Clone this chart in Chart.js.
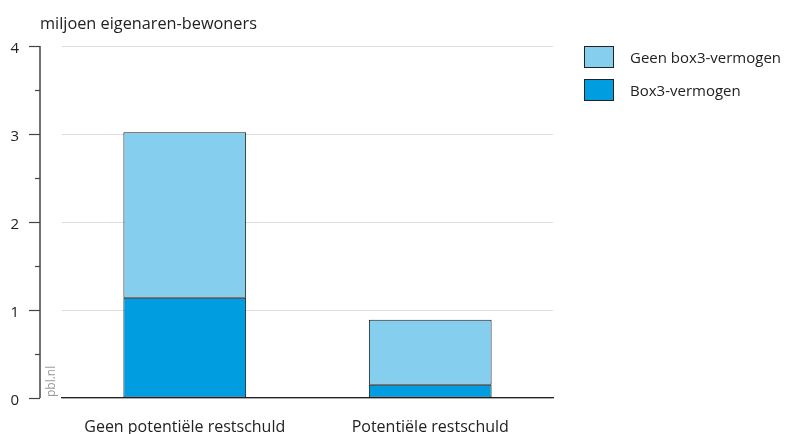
<!DOCTYPE html>
<html>
<head>
<meta charset="utf-8">
<script src="https://cdn.jsdelivr.net/npm/chart.js@4.4.1/dist/chart.umd.min.js"></script>
<style>
  html, body { margin: 0; padding: 0; background: #fff; }
  #wrap { position: relative; width: 796px; height: 434px; overflow: hidden; }
  #c { display: block; }
  #legend { position: absolute; left: 584px; top: 46px; font-family: "Open Sans", sans-serif; font-size: 15px; color: #222; }
  .item { display: flex; align-items: center; height: 22px; margin-bottom: 11px; }
  .box { width: 28px; height: 20px; border: 1px solid #222; margin-right: 16px; box-sizing: content-box; }
</style>
</head>
<body>
<div id="wrap">
  <canvas id="c" width="796" height="434"></canvas>
  <div id="legend"></div>
</div>
<script>
const categories = ["Geen potentiële restschuld", "Potentiële restschuld"];
const box3Vermogen = [1.14, 0.15];
const geenBox3Vermogen = [1.88, 0.74];
const yTicks = [0, 1, 2, 3, 4];
const axisTitle = "miljoen eigenaren-bewoners";
const seriesNames = ["Box3-vermogen", "Geen box3-vermogen"];

const FONT = '"Open Sans", sans-serif';
const LIGHT = '#86CEEE';
const DARK = '#009EE0';

const customAxis = {
  id: 'customAxis',
  afterDraw(chart) {
    const ctx = chart.ctx;
    const y = chart.scales.y;
    const axisX = 40;
    ctx.save();
    ctx.strokeStyle = '#444';
    ctx.lineWidth = 1.5;
    ctx.beginPath();
    ctx.moveTo(axisX, y.getPixelForValue(yTicks[yTicks.length - 1]));
    ctx.lineTo(axisX, y.getPixelForValue(yTicks[0]));
    ctx.stroke();
    ctx.lineWidth = 1.2;
    yTicks.forEach((v, i) => {
      const py = Math.round(y.getPixelForValue(v)) + 0.5;
      ctx.beginPath();
      ctx.moveTo(29, py);
      ctx.lineTo(axisX, py);
      ctx.stroke();
      if (i < yTicks.length - 1) {
        const pm = Math.round(y.getPixelForValue(v + 0.5)) + 0.5;
        ctx.beginPath();
        ctx.moveTo(35, pm);
        ctx.lineTo(axisX, pm);
        ctx.stroke();
      }
    });
    ctx.fillStyle = '#222';
    ctx.font = '16.3px ' + FONT;
    ctx.textAlign = 'left';
    ctx.textBaseline = 'alphabetic';
    ctx.fillText(axisTitle, 40, 29);
    ctx.translate(55, 397);
    ctx.rotate(-Math.PI / 2);
    ctx.fillStyle = '#9a9a9a';
    ctx.font = '12px ' + FONT;
    ctx.fillText('pbl.nl', 0, 0);
    ctx.restore();
  }
};

const chart = new Chart(document.getElementById('c'), {
  type: 'bar',
  data: {
    labels: categories,
    datasets: [
      { label: seriesNames[0], data: box3Vermogen, backgroundColor: DARK, borderColor: '#1a1a1a', borderWidth: 1, borderSkipped: false },
      { label: seriesNames[1], data: geenBox3Vermogen, backgroundColor: LIGHT, borderColor: '#1a1a1a', borderWidth: 1, borderSkipped: false }
    ]
  },
  options: {
    responsive: false,
    animation: false,
    barPercentage: 0.5,
    categoryPercentage: 1,
    layout: { autoPadding: false, padding: { top: 46, right: 243, left: 0, bottom: 0 } },
    plugins: { legend: { display: false }, tooltip: { enabled: false }, title: { display: false } },
    scales: {
      x: {
        stacked: true,
        grid: { display: false, drawTicks: false },
        border: { display: true, color: '#222', width: 1.2 },
        ticks: { color: '#222', font: { family: FONT, size: 16 }, padding: 20, maxRotation: 0 },
        afterFit(s) { s.height = 36; s.paddingLeft = 0; s.paddingRight = 0; }
      },
      y: {
        stacked: true,
        min: 0, max: 4,
        afterBuildTicks(s) { s.ticks = yTicks.map(v => ({ value: v })); },
        grid: { color: '#dddddd', lineWidth: 1, drawTicks: false },
        border: { display: false },
        ticks: { color: '#222', font: { family: FONT, size: 15 }, padding: 43, labelOffset: 3 },
        afterFit(s) { s.width = 62; s.paddingTop = 0; s.paddingBottom = 0; }
      }
    }
  },
  plugins: [customAxis]
});

const leg = document.getElementById('legend');
chart.data.datasets.slice().reverse().forEach(ds => {
  const it = document.createElement('div');
  it.className = 'item';
  const b = document.createElement('span');
  b.className = 'box';
  b.style.background = ds.backgroundColor;
  const t = document.createElement('span');
  t.textContent = ds.label;
  it.appendChild(b); it.appendChild(t);
  leg.appendChild(it);
});
</script>
</body>
</html>
